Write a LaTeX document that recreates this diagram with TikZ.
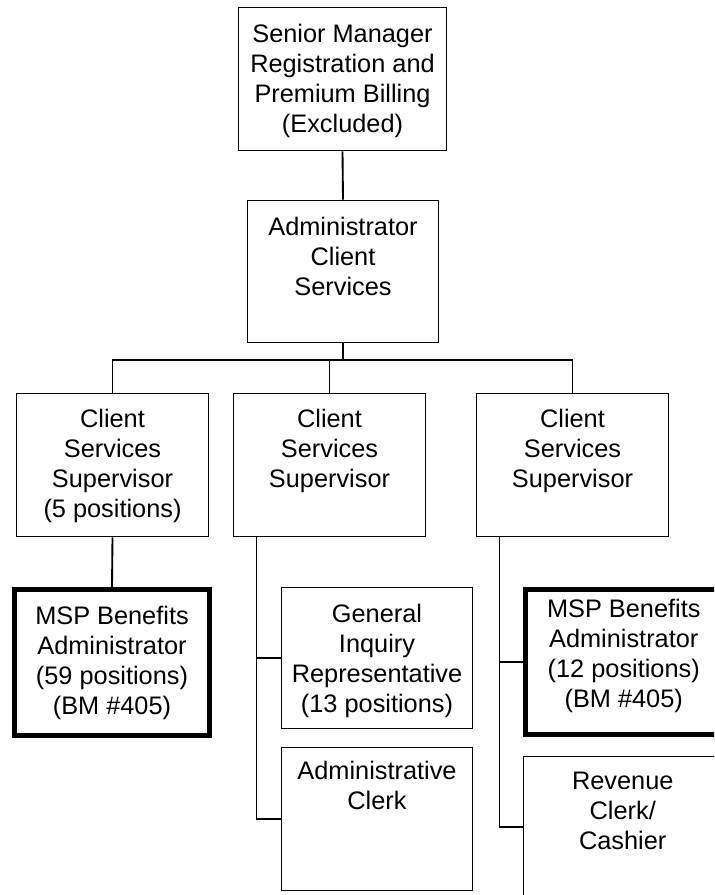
\documentclass[tikz,border=0pt]{standalone}
\usepackage{fontspec}
\setmainfont{Liberation Sans}
\usetikzlibrary{fit,calc}
\begin{document}
\begin{tikzpicture}[x=0.75pt,y=-0.75pt,
  box/.style={draw, line width=1.4pt, inner sep=0pt, rectangle},
  thickbox/.style={draw, line width=3.6pt, inner sep=0pt, rectangle},
  txt/.style={anchor=north, inner sep=0pt, align=center, font=\fontsize{19}{22.5}\selectfont},
  conn/.style={line width=1.4pt}]
\useasboundingbox (0,0) rectangle (714,895);
\clip (0,0) rectangle (714,895);
\fill[white] (0,0) rectangle (714,895);
% boxes
\node (top) [box, fit={(238.5,7.5) (446.5,150.5)}] {};
\node (adm) [box, fit={(247.5,200.5) (438.5,342.5)}] {};
\node (sup1) [box, fit={(16.5,393.5) (208.5,536.5)}] {};
\node (sup2) [box, fit={(233.5,393.5) (425.5,536.5)}] {};
\node (sup3) [box, fit={(476.5,393.5) (668.5,536.5)}] {};
\node (msp1) [thickbox, fit={(14.5,589.5) (209.5,735.5)}] {};
\node (gi) [box, fit={(281.5,587.5) (472.5,728.5)}] {};
\node (clerk) [box, fit={(281.5,747.5) (472.5,890.5)}] {};
\node (msp2) [thickbox, fit={(525.5,589.5) (722,734.5)}] {};
\node (rev) [box, fit={(523.5,756.5) (722,898)}] {};
% texts
\node (ttop) [txt] at ($(top.north)+(0,17)$) {Senior Manager\\Registration and\\Premium Billing\\(Excluded)};
\node (tadm) [txt] at ($(adm.north)+(0,17)$) {Administrator\\Client\\Services};
\node (tsup1) [txt] at ($(sup1.north)+(0,16)$) {Client\\Services\\Supervisor\\(5 positions)};
\node (tsup2) [txt] at ($(sup2.north)+(0,16)$) {Client\\Services\\Supervisor};
\node (tsup3) [txt] at ($(sup3.north)+(0,16)$) {Client\\Services\\Supervisor};
\node (tmsp1) [txt] at ($(msp1.north)+(0,19)$) {MSP Benefits\\Administrator\\(59 positions)\\(BM \#405)};
\node (tgi) [txt] at ($(gi.north)+(0,17)$) {General\\Inquiry\\Representative\\(13 positions)};
\node (tclerk) [txt] at ($(clerk.north)+(0,14)$) {Administrative\\Clerk};
\node (tmsp2) [txt] at ($(msp2.north)+(0,12)$) {MSP Benefits\\Administrator\\(12 positions)\\(BM \#405)};
\node (trev) [txt] at ($(rev.north)+(0,16)$) {Revenue\\Clerk/\\Cashier};
% connectors
\coordinate (j) at (343,360);
\coordinate (m) at (256.5,536.5);
\coordinate (r) at (499.5,536.5);
\draw[conn] (top.south) -- (adm.north);
\draw[conn] (adm.south) -- (adm.south |- j);
\draw[conn] (sup1.north) -- (sup1.north |- j) -- (sup3.north |- j) -- (sup3.north);
\draw[conn] (sup2.north) -- (sup2.north |- j);
\draw[conn] (sup1.south) -- (msp1.north);
\draw[conn] (m) |- (gi.west);
\draw[conn] (m) |- (clerk.west);
\draw[conn] (r) |- (msp2.west);
\draw[conn] (r) |- (rev.west);
\end{tikzpicture}
\end{document}
